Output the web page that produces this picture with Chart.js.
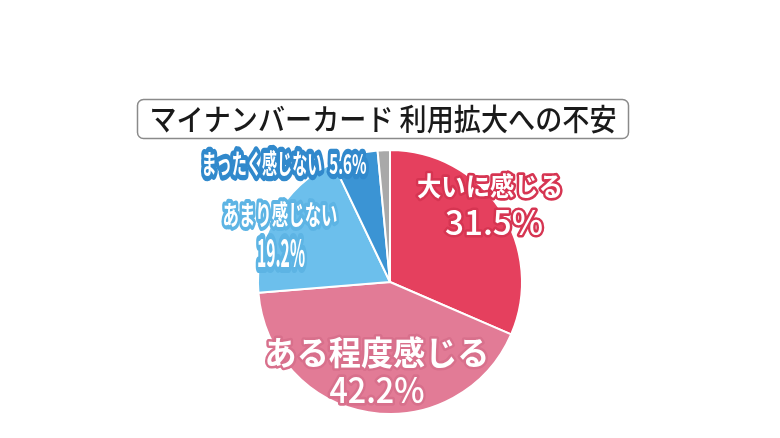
<!DOCTYPE html>
<html lang="ja">
<head>
<meta charset="utf-8">
<script src="https://cdn.jsdelivr.net/npm/chart.js@4.4.0/dist/chart.umd.min.js"></script>
<style>
  html, body { margin: 0; padding: 0; background: #fff; }
  #wrap { width: 780px; height: 438px; }
</style>
</head>
<body>
<div id="wrap"><canvas id="pieChart" width="780" height="438"></canvas></div>
<script>
/* Data
------------------------------------------------*/
const categories = ['大いに感じる', 'ある程度感じる', 'あまり感じない', 'まったく感じない', 'その他'];
const shares = [31.5, 42.2, 19.2, 5.6, 1.5];
const chartTitle = 'マイナンバーカード 利用拡大への不安';

/* Styles
------------------------------------------------*/
const sliceColors = ['#e5405e', '#e27b96', '#6cbfec', '#3b94d4', '#a9a9a9'];
const outlineColors = ['#d63552', '#d8708c', '#5db4e4', '#3189cc', null];
const jpFont = '"Noto Sans CJK JP", "Noto Sans", sans-serif';

// label spots: offsets (px) from the pie centre, font size, width to fit
const labelSpots = [
  { name: { dx: 100, dy: -96, size: 26, w: 146 }, pct: { dx: 104, dy: -60, size: 34, w: 98, weight: '500' } },
  { name: { dx: -13, dy: 70, size: 33, w: 225 }, pct: { dx: -13, dy: 108, size: 35, w: 95, weight: '500' } },
  { name: { dx: -110, dy: -67, size: 27, w: 115 }, pct: { dx: -109, dy: -29, size: 38, w: 48 } },
  { oneLine: true, name: { dx: -106, dy: -118, size: 27, w: 165 } },
  null
];

function drawText(ctx, text, x, y, size, width, fill, stroke, lw, weight) {
  ctx.save();
  ctx.font = (weight || 'bold') + ' ' + size + 'px ' + jpFont;
  const natural = ctx.measureText(text).width;
  const sx = width ? width / natural : 1;
  ctx.translate(x, y);
  ctx.scale(sx, 1);
  ctx.textAlign = 'center';
  ctx.textBaseline = 'middle';
  if (stroke) {
    ctx.lineJoin = 'round';
    ctx.strokeStyle = stroke;
    ctx.lineWidth = lw / sx;
    ctx.strokeText(text, 0, 0);
  }
  ctx.fillStyle = fill;
  ctx.fillText(text, 0, 0);
  ctx.restore();
}

const pieLabels = {
  id: 'pieLabels',
  afterDraw: (chart) => {
    const ctx = chart.ctx;
    const meta = chart.getDatasetMeta(0);
    const cx = meta.data[0].x;
    const cy = meta.data[0].y;

    // title box
    ctx.save();
    ctx.beginPath();
    ctx.roundRect(137.5, 99.5, 491, 39, 6);
    ctx.fillStyle = '#fff';
    ctx.fill();
    ctx.strokeStyle = '#8a8a8a';
    ctx.lineWidth = 1.5;
    ctx.stroke();
    ctx.restore();
    drawText(ctx, chartTitle, 383, 119, 30, 467, '#1a1a1a', null, 0, '500');

    labelSpots.forEach((spot, i) => {
      if (!spot) return;
      const pctText = shares[i].toFixed(1) + '%';
      if (spot.oneLine) {
        drawText(ctx, categories[i] + '  ' + pctText, cx + spot.name.dx, cy + spot.name.dy,
          spot.name.size, spot.name.w, '#fff', outlineColors[i], 6);
        return;
      }
      drawText(ctx, categories[i], cx + spot.name.dx, cy + spot.name.dy,
        spot.name.size, spot.name.w, '#fff', outlineColors[i], 5);
      drawText(ctx, pctText, cx + spot.pct.dx, cy + spot.pct.dy,
        spot.pct.size, spot.pct.w, '#fff', outlineColors[i], 5, spot.pct.weight);
    });
  }
};

new Chart(document.getElementById('pieChart').getContext('2d'), {
  type: 'pie',
  data: {
    labels: categories,
    datasets: [{
      data: shares,
      backgroundColor: sliceColors,
      borderColor: '#ffffff',
      borderWidth: 2
    }]
  },
  options: {
    responsive: false,
    animation: false,
    layout: { padding: { left: 257, right: 257, top: 149, bottom: 23 } },
    plugins: {
      legend: { display: false },
      tooltip: { enabled: false }
    }
  },
  plugins: [pieLabels]
});
</script>
</body>
</html>
